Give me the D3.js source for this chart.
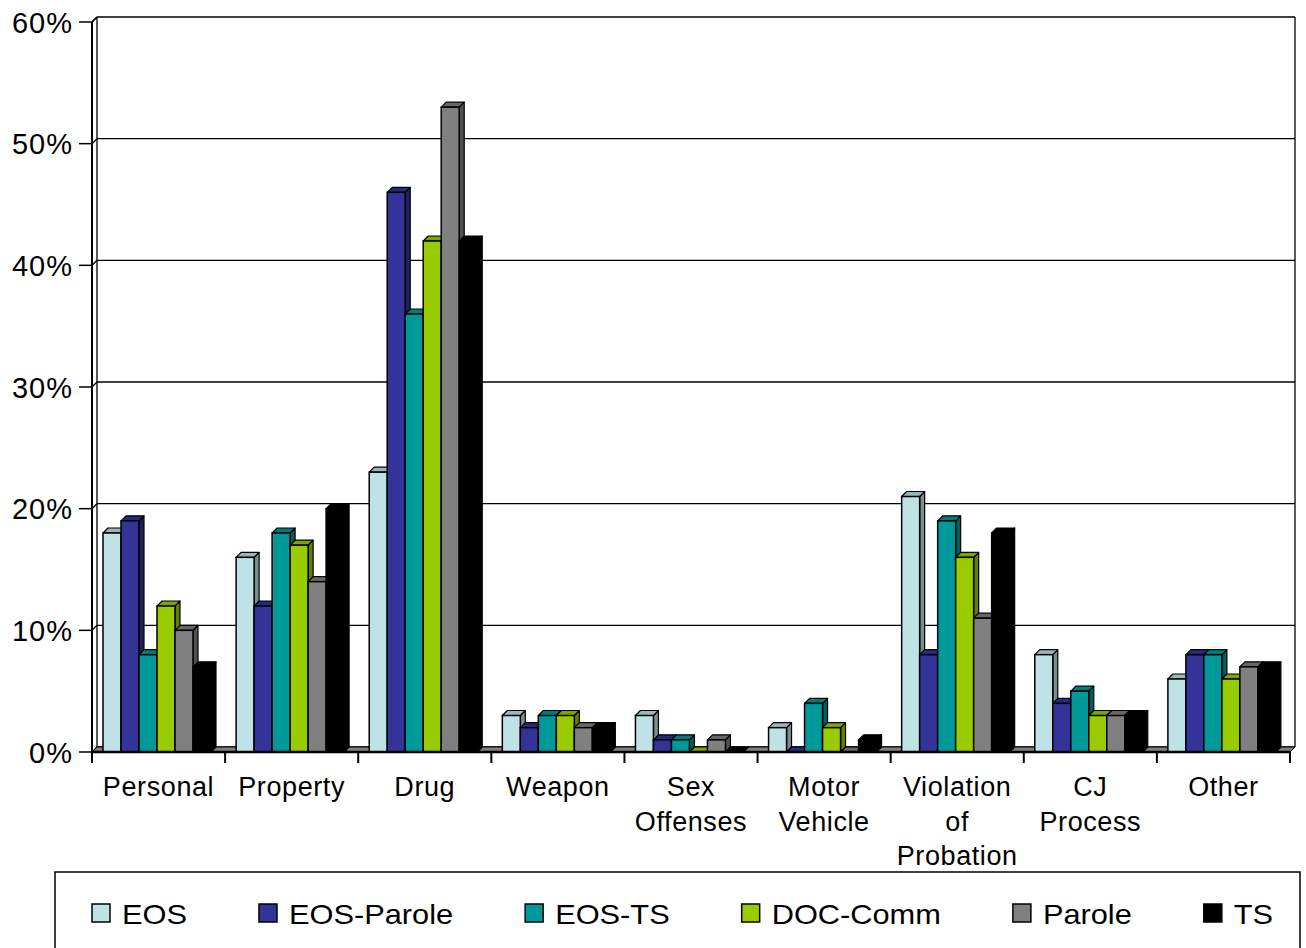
<!DOCTYPE html>
<html>
<head>
<meta charset="utf-8">
<script src="https://cdn.jsdelivr.net/npm/d3@7"></script>
<style>
	body{margin:0;background:#fff;}
	text{font-family:Arial, "Liberation Sans", sans-serif;fill:#000;}
</style>
</head>
<body>
<div id="canvas"></div>
<script>
//categories (multi line labels) and series
let categories = ['Personal', 'Property', 'Drug', 'Weapon', 'Sex Offenses', 'Motor Vehicle', 'Violation of Probation', 'CJ Process', 'Other'],
cat_lines = [['Personal'], ['Property'], ['Drug'], ['Weapon'], ['Sex', 'Offenses'], ['Motor', 'Vehicle'], ['Violation', 'of', 'Probation'], ['CJ', 'Process'], ['Other']],
series = ['EOS', 'EOS-Parole', 'EOS-TS', 'DOC-Comm', 'Parole', 'TS'],
colors = ['#bee2e5', '#333399', '#009999', '#99cc00', '#808080', '#000000'];

//percent values, one array per series
let eos = [18, 16, 23, 3, 3, 2, 21, 8, 6],
eos_parole = [19, 12, 46, 2, 1, 0, 8, 4, 8],
eos_ts = [8, 18, 36, 3, 1, 4, 19, 5, 8],
doc_comm = [12, 17, 42, 3, 0, 2, 16, 3, 6],
parole = [10, 14, 53, 2, 1, 0, 11, 3, 7],
ts = [7, 20, 42, 2, 0, 1, 18, 3, 7],
values = [eos, eos_parole, eos_ts, doc_comm, parole, ts];

let yticks = [0, 10, 20, 30, 40, 50, 60];

let W = 1306, H = 948,
dx = 5, dy = -5,//3d depth offset
canvas = d3.select('#canvas').append('svg').attr('width', W).attr('height', H);

let x = d3.scaleBand().domain(categories).range([92, 1290]),
xs = d3.scaleBand().domain(series).range([11, 119]),
y = d3.scaleLinear().domain([0, 60]).range([752, 22]);

draw_walls();
draw_bars();
draw_axes();
draw_legend();

function pts(a){
	return a.map(p=>p.join(',')).join(' ');
}

function draw_walls(){
	let g = canvas.append('g'),
	x0 = x.range()[0], x1 = x.range()[1];
	
	//back wall gridlines
	yticks.forEach(t=>{
		g.append('line')
		.attr('x1', x0 + dx).attr('x2', x1 + dx)
		.attr('y1', y(t) + dy).attr('y2', y(t) + dy)
		.style('stroke', '#000').style('stroke-width', 1.3);
		//side wall part
		g.append('line')
		.attr('x1', x0).attr('x2', x0 + dx)
		.attr('y1', y(t)).attr('y2', y(t) + dy)
		.style('stroke', '#000').style('stroke-width', 1.3);
	});
	
	//back wall edges
	g.append('line').attr('x1', x0 + dx).attr('x2', x0 + dx).attr('y1', y(60) + dy).attr('y2', y(0) + dy)
	.style('stroke', '#000').style('stroke-width', 1.3);
	g.append('line').attr('x1', x1 + dx).attr('x2', x1 + dx).attr('y1', y(60) + dy).attr('y2', y(0) + dy)
	.style('stroke', '#000').style('stroke-width', 1.3);
	
	//floor
	g.append('polygon')
	.attr('points', pts([[x0, y(0)], [x1, y(0)], [x1 + dx, y(0) + dy], [x0 + dx, y(0) + dy]]))
	.style('fill', '#808080').style('stroke', '#000').style('stroke-width', 1);
}

function draw_bars(){
	let g = canvas.append('g');
	categories.forEach((c, ci)=>{
		series.forEach((s, si)=>{
			let v = values[si][ci],
			bx = x(c) + xs(s),
			bw = xs.bandwidth(),
			top = y(v), base = y(0),
			col = d3.color(colors[si]);
			
			//side
			if(v > 0){
				g.append('polygon')
				.attr('points', pts([[bx + bw, base], [bx + bw + dx, base + dy], [bx + bw + dx, top + dy], [bx + bw, top]]))
				.style('fill', col.darker(1.3)).style('stroke', '#000').style('stroke-width', 1.2)
				.style('stroke-linejoin', 'round');
			}
			//top
			g.append('polygon')
			.attr('points', pts([[bx, top], [bx + bw, top], [bx + bw + dx, top + dy], [bx + dx, top + dy]]))
			.style('fill', col.darker(0.6)).style('stroke', '#000').style('stroke-width', 1.2)
			.style('stroke-linejoin', 'round');
			//front
			if(v > 0){
				g.append('rect')
				.attr('x', bx).attr('y', top)
				.attr('width', bw).attr('height', base - top)
				.style('fill', colors[si]).style('stroke', '#000').style('stroke-width', 1.5);
			}
		});
	});
}

function draw_axes(){
	let g = canvas.append('g'),
	x0 = x.range()[0], x1 = x.range()[1];
	
	//vertical front axis
	g.append('line').attr('x1', x0).attr('x2', x0).attr('y1', y(60)).attr('y2', y(0))
	.style('stroke', '#000').style('stroke-width', 2);
	g.append('line').attr('x1', x0).attr('x2', x0 + dx).attr('y1', y(60)).attr('y2', y(60) + dy)
	.style('stroke', '#000').style('stroke-width', 1.3);
	
	//y ticks and labels
	g.selectAll('.ytick').data(yticks).enter().append('line')
	.attr('x1', x0 - 13).attr('x2', x0)
	.attr('y1', d=>y(d)).attr('y2', d=>y(d))
	.style('stroke', '#000').style('stroke-width', 1.5);
	
	g.selectAll('.ylabel').data(yticks).enter().append('text')
	.attr('x', 73)
	.attr('y', d=>y(d) + 10.5)
	.attr('text-anchor', 'end')
	.style('font-size', '29px')
	.style('letter-spacing', '1px')
	.text(d=>d + '%');
	
	//horizontal front axis
	g.append('line').attr('x1', x0 - 1).attr('x2', x1).attr('y1', y(0)).attr('y2', y(0))
	.style('stroke', '#000').style('stroke-width', 2.5);
	
	let bounds = categories.map(c=>x(c)).concat([x1]);
	g.selectAll('.xtick').data(bounds).enter().append('line')
	.attr('x1', d=>d).attr('x2', d=>d)
	.attr('y1', y(0)).attr('y2', y(0) + 11)
	.style('stroke', '#000').style('stroke-width', 2);
	
	//category labels
	cat_lines.forEach((lines, ci)=>{
		let cx = x(categories[ci]) + x.bandwidth() / 2;
		lines.forEach((l, li)=>{
			g.append('text')
			.attr('x', cx)
			.attr('y', 796 + li * 34.5)
			.attr('text-anchor', 'middle')
			.style('font-size', '27px')
			.style('letter-spacing', '0.6px')
			.text(l);
		});
	});
}

function draw_legend(){
	let g = canvas.append('g');
	
	g.append('rect')
	.attr('x', 55).attr('y', 872)
	.attr('width', 1245).attr('height', 120)
	.style('fill', '#fff').style('stroke', '#000').style('stroke-width', 1.5);
	
	let cx = 92;
	series.forEach((s, i)=>{
		g.append('rect')
		.attr('x', cx).attr('y', 904)
		.attr('width', 18).attr('height', 18)
		.style('fill', colors[i]).style('stroke', '#000').style('stroke-width', 1.5);
		
		let t = g.append('text')
		.attr('transform', 'translate(' + (cx + 30) + ',924) scale(1.14,1)')
		.style('font-size', '27px')
		.text(s);
		
		cx += 30 + t.node().getComputedTextLength() * 1.14 + 72;
	});
}
</script>
</body>
</html>
